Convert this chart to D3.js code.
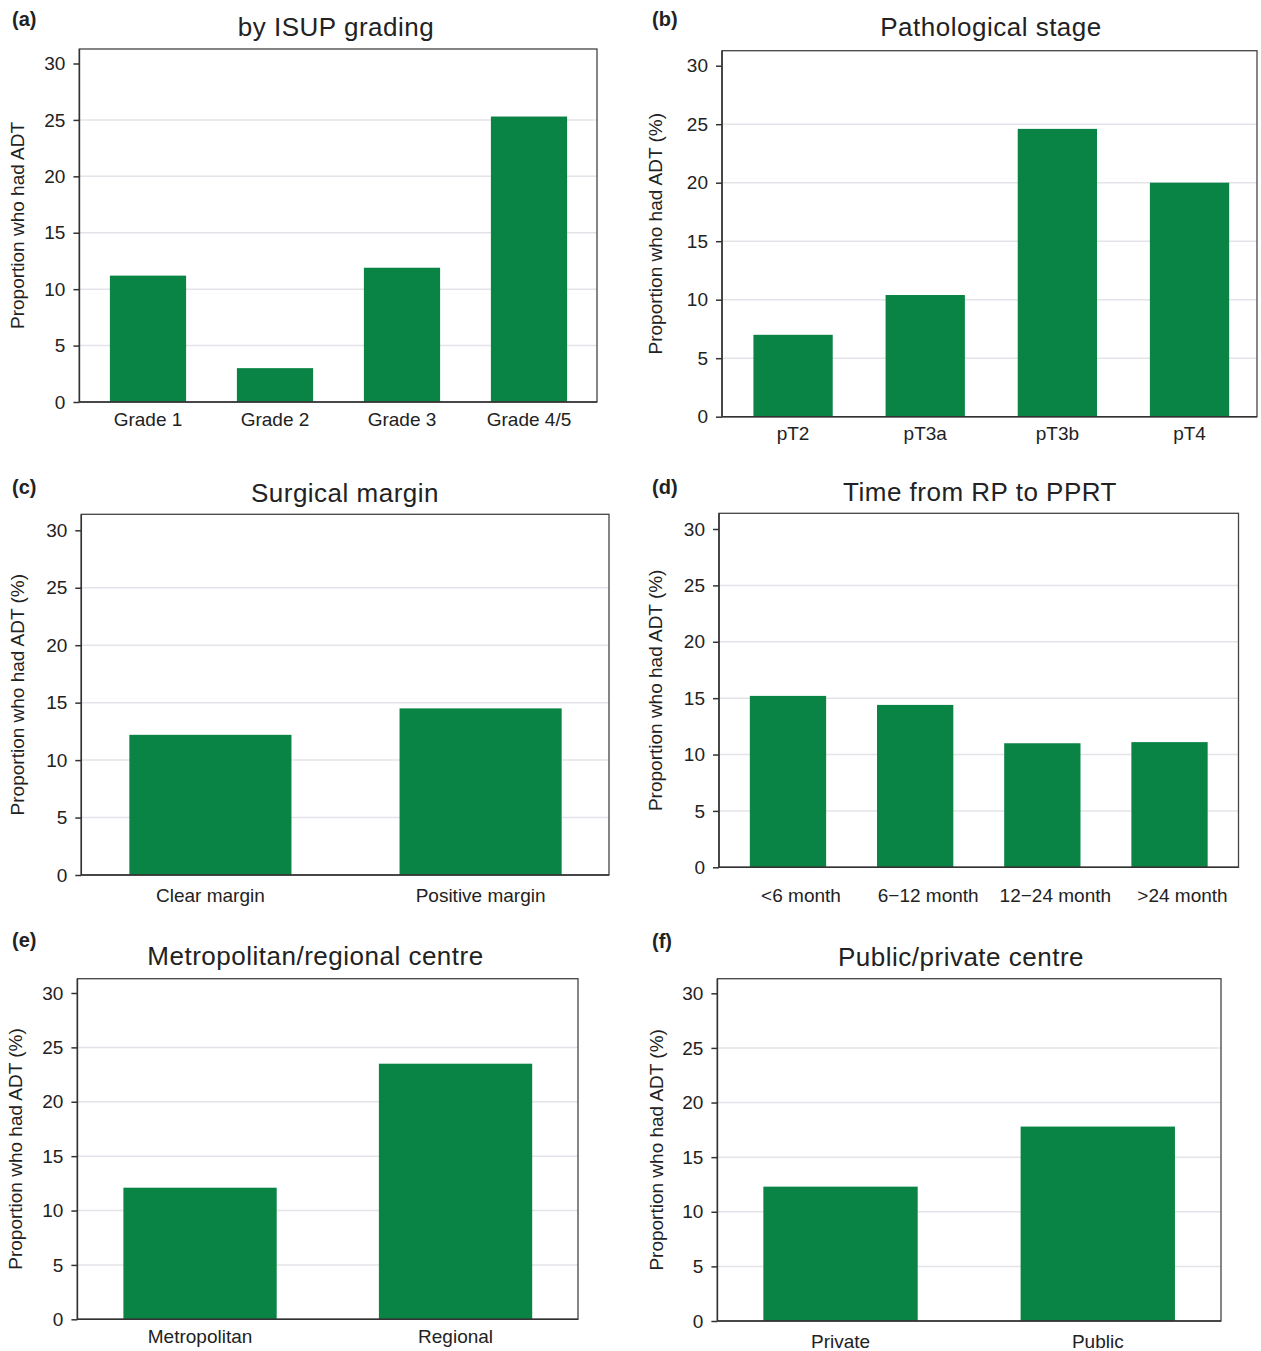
<!DOCTYPE html>
<html>
<head>
<meta charset="utf-8">
<title>Proportion who had ADT</title>
<script src="https://cdn.jsdelivr.net/npm/d3@7"></script>
<style>
body { margin: 0; background: #fff; }
svg { font-family: "Liberation Sans", Arial, Helvetica, sans-serif; }
.grid line { stroke: #e3e3ea; stroke-width: 1.5; }
.frame { fill: none; stroke: #444; stroke-width: 1.3; }
.axis path, .axis line { stroke: #333; stroke-width: 1.5; }
.axis text { font-size: 19px; fill: #222; }
.bar { fill: #098444; }
.title { font-size: 26px; fill: #222; text-anchor: middle; letter-spacing: 0.5px; }
.tag { font-size: 20px; font-weight: bold; fill: #222; }
.ylab { font-size: 19px; fill: #222; text-anchor: middle; }
</style>
</head>
<body>
<script>

// data (percent who had ADT)
var isupCats = ["Grade 1", "Grade 2", "Grade 3", "Grade 4/5"];
var isupVals = [11.2, 3.0, 11.9, 25.3];

var stageCats = ["pT2", "pT3a", "pT3b", "pT4"];
var stageVals = [7.0, 10.4, 24.6, 20.0];

var marginCats = ["Clear margin", "Positive margin"];
var marginVals = [12.2, 14.5];

var timeCats = ["<6 month", "6\u221212 month", "12\u221224 month", ">24 month"];
var timeVals = [15.2, 14.4, 11.0, 11.1];

var centreCats = ["Metropolitan", "Regional"];
var centreVals = [12.1, 23.5];

var sectorCats = ["Private", "Public"];
var sectorVals = [12.3, 17.8];

var yTicks = [0, 5, 10, 15, 20, 25, 30];

var yTitle = "Proportion who had ADT (%)";

// layout of the six panels
var panels = [
  {tag: "(a)", title: "by ISUP grading", cats: isupCats, vals: isupVals, ylab: "Proportion who had ADT",
   frame: [79.4, 49, 597, 402], y30: 63.5, band: [84.5, 592.5], labDy: 24, labDx: 0,
   titlePos: [336, 36], tagPos: [12, 26], ylabX: 24},
  {tag: "(b)", title: "Pathological stage", cats: stageCats, vals: stageVals, ylab: yTitle,
   frame: [722, 50.7, 1257, 416.7], y30: 65.7, band: [727, 1255.6], labDy: 23.5, labDx: 0,
   titlePos: [991, 36], tagPos: [652, 26], ylabX: 662},
  {tag: "(c)", title: "Surgical margin", cats: marginCats, vals: marginVals, ylab: yTitle,
   frame: [81.3, 514.3, 609, 875], y30: 530.3, band: [75.3, 615.7], labDy: 27, labDx: 0,
   titlePos: [345, 502], tagPos: [12, 494], ylabX: 24},
  {tag: "(d)", title: "Time from RP to PPRT", cats: timeCats, vals: timeVals, ylab: yTitle,
   frame: [719, 513.3, 1238.5, 867.3], y30: 529, band: [724.4, 1233.1], labDy: 34.5, labDx: 13,
   titlePos: [980, 501], tagPos: [652, 494], ylabX: 662},
  {tag: "(e)", title: "Metropolitan/regional centre", cats: centreCats, vals: centreVals, ylab: yTitle,
   frame: [77.4, 978.7, 578, 1319.3], y30: 993, band: [72.3, 583.3], labDy: 24, labDx: 0,
   titlePos: [315.5, 965], tagPos: [12, 947], ylabX: 22},
  {tag: "(f)", title: "Public/private centre", cats: sectorCats, vals: sectorVals, ylab: yTitle,
   frame: [717.4, 978.7, 1221, 1321], y30: 993.3, band: [711.9, 1226.4], labDy: 27, labDx: 0,
   titlePos: [961, 966], tagPos: [652, 948], ylabX: 663}
];

var svg = d3.select("body").append("svg")
    .attr("width", 1261)
    .attr("height", 1351);

panels.forEach(function(p) {
  var x0 = p.frame[0], top = p.frame[1], x1 = p.frame[2], y0 = p.frame[3];

  var x = d3.scaleBand()
      .domain(p.cats)
      .range(p.band)
      .paddingInner(0.4)
      .paddingOuter(0.2);

  var y = d3.scaleLinear()
      .domain([0, 30])
      .range([y0, p.y30]);

  var g = svg.append("g");

  // light gridlines
  g.append("g")
      .attr("class", "grid")
    .selectAll("line")
    .data(yTicks.filter(function(t) { return t > 0 && t < 30; }))
    .enter().append("line")
      .attr("x1", x0)
      .attr("x2", x1)
      .attr("y1", function(d) { return y(d); })
      .attr("y2", function(d) { return y(d); });

  // bars
  g.selectAll(".bar")
    .data(p.vals)
    .enter().append("rect")
      .attr("class", "bar")
      .attr("x", function(d, i) { return x(p.cats[i]); })
      .attr("width", x.bandwidth())
      .attr("y", function(d) { return y(d); })
      .attr("height", function(d) { return y0 - y(d); });

  g.append("rect")
      .attr("class", "frame")
      .attr("x", x0)
      .attr("y", top)
      .attr("width", x1 - x0)
      .attr("height", y0 - top);

  // y axis
  var ya = g.append("g")
      .attr("class", "axis")
      .attr("transform", "translate(" + x0 + ",0)")
      .call(d3.axisLeft(y).tickValues(yTicks).tickSize(6).tickPadding(8));
  ya.select(".domain").attr("d", "M0," + top + "V" + y0);

  // x axis: baseline only, no ticks
  var xa = g.append("g")
      .attr("class", "axis")
      .attr("transform", "translate(0," + y0 + ")")
      .call(d3.axisBottom(x).tickSize(0).tickPadding(0));
  xa.select(".domain").attr("d", "M" + x0 + ",0H" + x1);
  xa.selectAll("text")
      .attr("y", p.labDy)
      .attr("dy", 0)
      .attr("dx", p.labDx);

  g.append("text")
      .attr("class", "title")
      .attr("x", p.titlePos[0])
      .attr("y", p.titlePos[1])
      .text(p.title);

  g.append("text")
      .attr("class", "tag")
      .attr("x", p.tagPos[0])
      .attr("y", p.tagPos[1])
      .text(p.tag);

  g.append("text")
      .attr("class", "ylab")
      .attr("transform", "translate(" + p.ylabX + "," + ((top + y0) / 2) + ") rotate(-90)")
      .text(p.ylab);
});

</script>
</body>
</html>
